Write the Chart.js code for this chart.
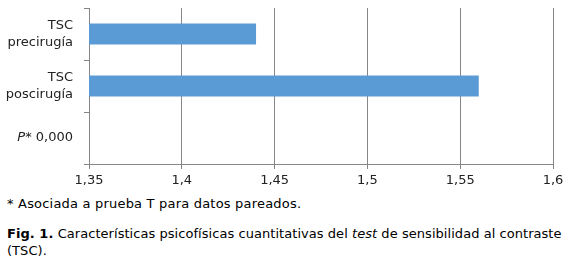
<!DOCTYPE html>
<html>
<head>
<meta charset="utf-8">
<script src="https://cdn.jsdelivr.net/npm/chart.js@4"></script>
<style>
  body { margin: 0; background: #fff; font-family: "DejaVu Sans", Verdana, sans-serif; color: #000; }
  #wrap { width: 567px; height: 190px; position: relative; }
  .note { font-size: 13px; letter-spacing: 0.2px; margin: 5px 0 0 7px; line-height: 17px; }
  .caption { font-size: 13px; letter-spacing: 0.05px; margin: 13px 0 0 7px; width: 560px; line-height: 17px; }
</style>
</head>
<body>
<div id="wrap"><canvas id="chart"></canvas></div>
<div class="note">* Asociada a prueba T para datos pareados.</div>
<div class="caption"><b>Fig. 1.</b> Características psicofísicas cuantitativas del <i>test</i> de sensibilidad al contraste (TSC).</div>
<script>
const categories = [['TSC', 'precirugía'], ['TSC', 'poscirugía'], 'P* 0,000'];
const values = [1.44, 1.56, null];
const xMin = 1.35;
const xMax = 1.6;
const xStep = 0.05;

const gridColor = '#868686';
const tickFont = { family: 'DejaVu Sans', size: 13, lineHeight: 1.3 };

// draws the p-value label with an italic P, as in the original
const italicP = {
  id: 'italicP',
  afterDraw(chart) {
    const y = chart.scales.y;
    const idx = categories.indexOf('P* 0,000');
    const py = y.getPixelForTick(idx);
    const right = y.right - 16;
    const ctx = chart.ctx;
    ctx.save();
    ctx.fillStyle = '#222';
    ctx.textBaseline = 'middle';
    ctx.font = '13px "DejaVu Sans"';
    const rest = '* 0,000';
    const w = ctx.measureText(rest).width;
    ctx.textAlign = 'right';
    ctx.fillText(rest, right, py);
    ctx.font = 'italic 13px "DejaVu Sans"';
    ctx.fillText('P', right - w, py);
    ctx.restore();
  }
};

new Chart(document.getElementById('chart'), {
  type: 'bar',
  data: {
    labels: categories,
    datasets: [{
      data: values,
      backgroundColor: '#5B9BD5',
      barPercentage: 0.5,
      categoryPercentage: 0.8
    }]
  },
  options: {
    indexAxis: 'y',
    responsive: true,
    maintainAspectRatio: false,
    animation: false,
    layout: { padding: { top: 8, right: 14, left: 0, bottom: 0 } },
    plugins: { legend: { display: false }, tooltip: { enabled: false } },
    scales: {
      x: {
        min: xMin,
        max: xMax,
        ticks: {
          stepSize: xStep,
          color: '#222',
          font: tickFont,
          padding: 3,
          callback: v => String(Number(v.toFixed(2))).replace('.', ',')
        },
        grid: { color: gridColor, lineWidth: 1, tickLength: 5 },
        border: { color: gridColor },
        afterFit: s => { s.height = 26; s.paddingLeft = 0; s.paddingRight = 0; }
      },
      y: {
        ticks: {
          color: '#222',
          font: tickFont,
          padding: 11,
          callback: function (v, i) {
            const l = categories[i];
            return l === 'P* 0,000' ? '' : l;
          }
        },
        grid: { drawOnChartArea: false, color: gridColor, tickLength: 5 },
        border: { color: gridColor },
        afterFit: s => { s.width = 89; s.paddingTop = 0; s.paddingBottom = 0; }
      }
    }
  },
  plugins: [italicP]
});
</script>
</body>
</html>
